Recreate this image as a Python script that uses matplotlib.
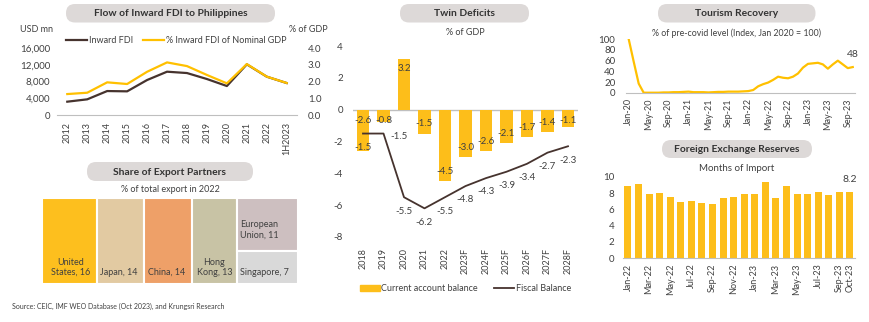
import numpy as np
import pandas as pd
import matplotlib
matplotlib.use('Agg')
import matplotlib.pyplot as plt
from matplotlib.patches import FancyBboxPatch, Rectangle, Patch
from matplotlib.lines import Line2D

plt.rcParams['font.family'] = ['Lato', 'DejaVu Sans']
plt.rcParams['axes.unicode_minus'] = False

# ---- data ----
fdi_years = ['2012', '2013', '2014', '2015', '2016', '2017', '2018', '2019',
             '2020', '2021', '2022', '1H2023']
fdi_usd = [3180, 3740, 5720, 5650, 8350, 10340, 10020, 8590, 6920, 12100, 9150, 7630]
fdi_pct_gdp = [1.25, 1.33, 1.95, 1.85, 2.58, 3.14, 2.92, 2.39, 1.89, 3.04, 2.29, 1.91]

export_partners = ['United\nStates', 'Japan', 'China', 'Hong\nKong', 'European\nUnion', 'Singapore']
export_share = [16, 14, 14, 13, 11, 7]
export_colors = ['#FDBF1E', '#E2CAA2', '#EEA068', '#C8C3A5', '#CDBFC0', '#D9D9D9']

twin_years = ['2018', '2019', '2020', '2021', '2022', '2023F', '2024F', '2025F',
              '2026F', '2027F', '2028F']
current_account = [-2.6, -0.8, 3.2, -1.5, -4.5, -3.0, -2.6, -2.1, -1.7, -1.4, -1.1]
fiscal_balance = [-1.5, -1.5, -5.5, -6.2, -5.5, -4.8, -4.3, -3.9, -3.4, -2.7, -2.3]

tourism_months = pd.date_range('2020-01-01', '2023-10-01', freq='MS')
tourism_index = [100, 58, 17, 0, 0, 0, 0, 0.5, 0.5, 1, 1, 1.5,
                 2, 1, 1, 1, 0.5, 1, 1.5, 1.5, 2, 2, 2, 2.5,
                 3, 5, 12, 16, 19, 24, 30, 28, 27, 30, 36, 47,
                 54, 55, 56, 53, 45, 53, 60, 53, 46, 48]

fx_months = pd.date_range('2022-01-01', '2023-10-01', freq='MS')
fx_months_import = [8.9, 9.1, 7.9, 8.0, 7.55, 6.95, 7.05, 6.8, 6.65, 7.4, 7.5, 7.95,
                    7.85, 9.35, 7.45, 8.9, 7.85, 7.95, 8.1, 7.8, 8.1, 8.2]

# ---- style ----
W, H = 870, 322
TXT = '#404040'
AXC = '#BFBFBF'
YEL = '#FDBE1A'
LINE_Y = '#FFC000'
DARK = '#46332E'
BOXC = '#DDD9D8'
FS = 6.5      # labels and subtitles
FS_TICK = 7   # tick labels

fig = plt.figure(figsize=(W / 100, H / 100), dpi=100)


def px_axes(x0, y0, x1, y1, **kw):
    return fig.add_axes([x0 / W, 1 - y1 / H, (x1 - x0) / W, (y1 - y0) / H], **kw)


bg = fig.add_axes([0, 0, 1, 1], zorder=-5)
bg.set_xlim(0, W)
bg.set_ylim(H, 0)
bg.axis('off')


def title_box(x0, y0, x1, y1, text):
    bg.add_patch(FancyBboxPatch((x0, y0), x1 - x0, y1 - y0,
                                boxstyle='round,pad=0,rounding_size=9',
                                fc=BOXC, ec='none'))
    bg.text((x0 + x1) / 2, (y0 + y1) / 2 + 0.5, text, ha='center', va='center',
            fontsize=7.4, fontweight='bold', color='#333333')


def clean(ax):
    for s in ['top', 'right', 'left']:
        ax.spines[s].set_visible(False)
    ax.spines['bottom'].set_color(AXC)
    ax.tick_params(length=0, colors=TXT, labelsize=FS_TICK)


# ---- Flow of inward FDI ----
title_box(66, 4, 275, 22.5, 'Flow of Inward FDI to Philippines')
ax1 = px_axes(57.3, 48, 296.7, 115)
x1 = np.arange(len(fdi_years))
ax1.plot(x1, fdi_usd, color=DARK, lw=1.6, zorder=2)
ax1r = ax1.twinx()
ax1r.plot(x1, fdi_pct_gdp, color=LINE_Y, lw=1.6, zorder=3)
ax1.set_xlim(-0.5, len(fdi_years) - 0.5)
ax1.set_ylim(0, 16000)
ax1r.set_ylim(0, 4.0)
ax1.set_yticks(range(0, 16001, 4000))
ax1.set_yticklabels([f'{v:,}' for v in range(0, 16001, 4000)])
ax1r.set_yticks(np.arange(0, 4.01, 1.0))
ax1r.set_yticklabels([f'{v:.1f}' for v in np.arange(0, 4.01, 1.0)])
ax1.set_xticks(x1)
ax1.set_xticklabels(fdi_years, rotation=90)
clean(ax1)
clean(ax1r)
ax1r.spines['bottom'].set_visible(False)
ax1.tick_params(axis='y', pad=5)
ax1.tick_params(axis='x', pad=5, labelsize=6.5)
ax1r.tick_params(axis='y', pad=8)
bg.text(20, 29, 'USD mn', fontsize=FS, color=TXT, va='center')
bg.text(289, 29, '% of GDP', fontsize=FS, color=TXT, va='center')
ax1.legend(handles=[Line2D([], [], color=DARK, lw=1.6, label='Inward FDI'),
                    Line2D([], [], color=LINE_Y, lw=1.6, label='% Inward FDI of Nominal GDP')],
           loc='center left', bbox_to_anchor=(0.02, 1.11), ncol=2, frameon=False,
           fontsize=FS, labelcolor=TXT, handlelength=2.4, handletextpad=0.15,
           columnspacing=1.1, borderaxespad=0)

# ---- Share of export partners ----
title_box(87, 162, 253, 181, 'Share of Export Partners')
bg.text(170, 189, '% of total export in 2022', ha='center', va='center', fontsize=FS, color=TXT)
ax2 = px_axes(42, 198, 298, 284)
total = sum(export_share)
ax2.set_xlim(0, total)
ax2.set_ylim(0, 1)
ax2.axis('off')
left = 0
for name, v, c in zip(export_partners[:4], export_share[:4], export_colors[:4]):
    ax2.add_patch(Rectangle((left, 0), v, 1, fc=c, ec='white', lw=1.5))
    lab = f'{name}, {v}'
    if name.startswith('Hong'):
        ax2.annotate(lab, (left + v / 2, 0), xytext=(0, 5), textcoords='offset points',
                     ha='center', va='bottom', multialignment='center', fontsize=FS, color=TXT)
    elif name.startswith('United'):
        ax2.annotate(lab, (left, 0), xytext=(6.5, 5), textcoords='offset points',
                     ha='left', va='bottom', multialignment='center', fontsize=FS, color=TXT)
    else:
        ax2.annotate(lab, (left, 0), xytext=(2.5, 5), textcoords='offset points',
                     ha='left', va='bottom', fontsize=FS, color=TXT)
    left += v
# last column is split between the two smallest partners
col_w = export_share[4] + export_share[5]
top_h = export_share[4] / col_w
ax2.add_patch(Rectangle((left, 1 - top_h), col_w, top_h, fc=export_colors[4], ec='white', lw=1.5))
ax2.add_patch(Rectangle((left, 0), col_w, 1 - top_h, fc=export_colors[5], ec='white', lw=1.5))
ax2.annotate(f'{export_partners[4]}, {export_share[4]}', (left, 1 - top_h / 2),
             xytext=(2.5, -4), textcoords='offset points', ha='left', va='center',
             fontsize=FS, color=TXT)
ax2.annotate(f'{export_partners[5]}, {export_share[5]}', (left, 0), xytext=(2.5, 5),
             textcoords='offset points', ha='left', va='bottom', fontsize=FS, color=TXT)

bg.text(12, 306, 'Source: CEIC, IMF WEO Database (Oct 2023), and Krungsri Research',
        fontsize=5, color=TXT, va='center')

# ---- Twin deficits ----
title_box(400, 4, 529, 22.5, 'Twin Deficits')
bg.text(465, 32, '% of GDP', ha='center', va='center', fontsize=FS, color=TXT)
ax3 = px_axes(352.75, 46, 578.25, 237)
x3 = np.arange(len(twin_years))
ax3.bar(x3, current_account, width=0.6, color=YEL, zorder=2)
ax3.plot(x3, fiscal_balance, color=DARK, lw=1.3, zorder=3)
ax3.axhline(0, color=AXC, lw=1, zorder=1)
ax3.set_xlim(-0.5, len(twin_years) - 0.5)
ax3.set_ylim(-8, 4)
ax3.set_yticks(range(-8, 5, 2))
ax3.set_xticks(x3)
ax3.set_xticklabels(twin_years, rotation=90)
clean(ax3)
ax3.spines['bottom'].set_visible(False)
ax3.tick_params(axis='y', pad=7)
ax3.tick_params(axis='x', pad=8, labelsize=6.5)
for i, v in enumerate(current_account):
    if abs(v) < 1.3 or i == 0:
        y = -0.7
    else:
        y = v - np.sign(v) * 0.6
    ax3.text(i, y, f'{v:.1f}', ha='center', va='center', fontsize=7, color=TXT, zorder=4)
for i, v in enumerate(fiscal_balance):
    off = (11, -2) if i == 1 else (0, -10)
    ax3.annotate(f'{v:.1f}', (i, v), xytext=off, textcoords='offset points',
                 ha='center', va='center', fontsize=7, color=TXT, zorder=4)
ax3.legend(handles=[Patch(color=YEL, label='Current account balance'),
                    Line2D([], [], color=DARK, lw=1.3, label='Fiscal Balance')],
           loc='center left', bbox_to_anchor=(0.015, -0.27), ncol=2, frameon=False,
           fontsize=FS, labelcolor=TXT, handlelength=2.2, handleheight=0.6,
           handletextpad=0.2, columnspacing=1.8, borderaxespad=0)

# ---- Tourism recovery ----
title_box(658, 4, 815.5, 22.5, 'Tourism Recovery')
bg.text(737, 33, '% of pre-covid level (Index, Jan 2020 = 100)', ha='center', va='center',
        fontsize=6.3, color=TXT)
ax4 = px_axes(626.5, 39.3, 855, 92.7)
x4 = np.arange(len(tourism_months))
ax4.plot(x4, tourism_index, color=LINE_Y, lw=1.6)
ax4.set_xlim(-0.45, len(tourism_months) - 0.55)
ax4.set_ylim(0, 100)
ax4.set_yticks(range(0, 101, 20))
ax4.set_xticks(x4[::4])
ax4.set_xticklabels(tourism_months[::4].strftime('%b-%y'), rotation=90)
clean(ax4)
ax4.tick_params(axis='y', pad=8)
ax4.tick_params(axis='x', pad=4, labelsize=6.5)
ax4.annotate(f'{tourism_index[-1]:.0f}', (x4[-1], tourism_index[-1]), xytext=(0, 9),
             textcoords='offset points', ha='center', va='center', fontsize=7.5, color=TXT)

# ---- Foreign exchange reserves ----
title_box(662, 140, 812, 158, 'Foreign Exchange Reserves')
bg.text(737, 168, 'Months of Import', ha='center', va='center', fontsize=7, color=TXT)
ax5 = px_axes(622.7, 177, 855.2, 258)
x5 = np.arange(len(fx_months))
ax5.bar(x5, fx_months_import, width=0.66, color=YEL)
ax5.set_xlim(-0.5, len(fx_months) - 0.5)
ax5.set_ylim(0, 10)
ax5.set_yticks(range(0, 11, 2))
fx_ticks = list(x5[::2]) + [x5[-1]]
ax5.set_xticks(fx_ticks)
ax5.set_xticklabels(fx_months[fx_ticks].strftime('%b-%y'), rotation=90)
clean(ax5)
ax5.tick_params(axis='y', pad=6)
ax5.tick_params(axis='x', pad=4, labelsize=6.5)
ax5.annotate(f'{fx_months_import[-1]:.1f}', (x5[-1], fx_months_import[-1]), xytext=(0, 9),
             textcoords='offset points', ha='center', va='center', fontsize=7.5, color=TXT)

fig.savefig('out.png', dpi=100, facecolor='white')
